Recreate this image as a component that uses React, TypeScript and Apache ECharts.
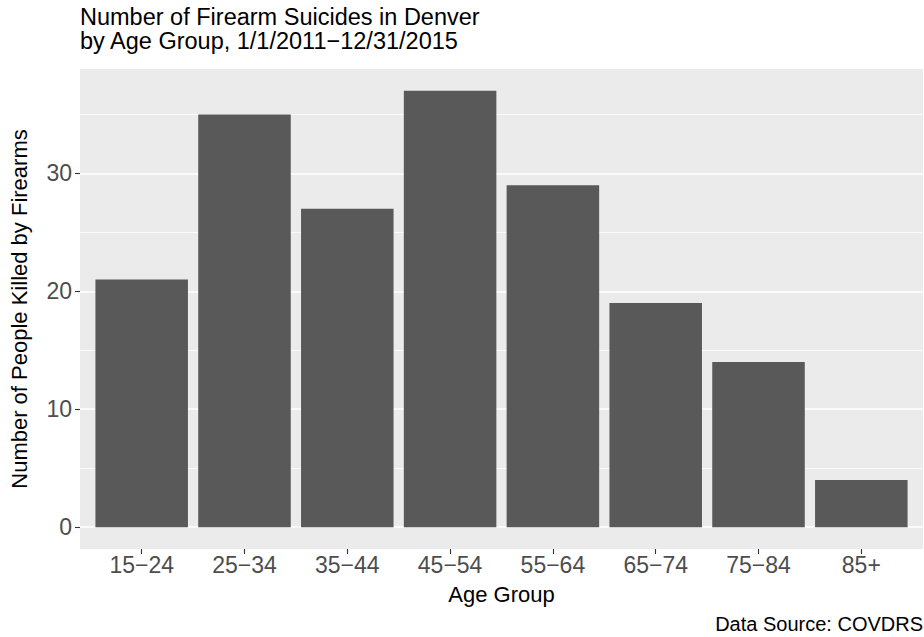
import React, { useEffect, useRef } from "react";
import * as echarts from "echarts";

const categories = ["15−24", "25−34", "35−44", "45−54", "55−64", "65−74", "75−84", "85+"];
const counts = [21, 35, 27, 37, 29, 19, 14, 4];
const yTicks = [0, 10, 20, 30];
const yMinor = [5, 15, 25, 35];
const titleLines = ["Number of Firearm Suicides in Denver", "by Age Group, 1/1/2011−12/31/2015"];
const xTitle = "Age Group";
const yTitle = "Number of People Killed by Firearms";
const caption = "Data Source: COVDRS";

export default function App() {
  const ref = useRef<HTMLDivElement>(null);
  useEffect(() => {
    const chart = echarts.init(ref.current!, null, { renderer: "svg" });
    const font = "'Liberation Sans', Arial, Helvetica, sans-serif";
    const yMax = Math.max(...counts);
    const pad = yMax * 0.05;
    const gridLeft = 80;
    const gridRight = 1;
    const gridW = 924 - gridLeft - gridRight;
    const unit = gridW / (categories.length + 0.2);
    const xTickVals = categories.map((_, i) => i + 1);
    chart.setOption({
      animation: false,
      backgroundColor: "#ffffff",
      textStyle: { fontFamily: font },
      title: [
        {
          text: titleLines.join("\n"),
          left: 80,
          top: 5,
          padding: 0,
          textStyle: { fontFamily: font, fontSize: 23.5, fontWeight: "normal", color: "#000000", lineHeight: 24 },
        },
        {
          text: caption,
          right: 1,
          top: 614,
          padding: 0,
          textStyle: { fontFamily: font, fontSize: 20, fontWeight: "normal", color: "#000000" },
        },
      ],
      grid: {
        left: gridLeft,
        right: gridRight,
        top: 69,
        bottom: 88,
        show: true,
        backgroundColor: "#EBEBEB",
        borderWidth: 0,
        containLabel: false,
      },
      xAxis: {
        type: "value",
        min: 0.4,
        max: categories.length + 0.6,
        splitLine: { show: false },
        axisLine: { show: false, onZero: false },
        axisTick: { show: true, length: 5, customValues: xTickVals, lineStyle: { color: "#333333", width: 1.1 } },
        axisLabel: {
          customValues: xTickVals,
          formatter: (v: number) => categories[Math.round(v) - 1] ?? "",
          color: "#4D4D4D",
          fontSize: 23,
          fontFamily: font,
          margin: 4,
        },
        name: xTitle,
        nameLocation: "middle",
        nameGap: 34,
        nameTextStyle: { color: "#000000", fontSize: 22, fontFamily: font },
      },
      yAxis: {
        type: "value",
        min: -pad,
        max: yMax + pad,
        splitLine: { show: false },
        axisLine: { show: false, onZero: false },
        axisTick: { show: true, length: 5, customValues: yTicks, lineStyle: { color: "#333333", width: 1.1 } },
        axisLabel: {
          customValues: yTicks,
          color: "#4D4D4D",
          fontSize: 23,
          fontFamily: font,
          margin: 8,
        },
        name: yTitle,
        nameLocation: "middle",
        nameGap: 50,
        nameTextStyle: { color: "#000000", fontSize: 22, fontFamily: font },
      },
      series: [
        {
          type: "bar",
          data: counts.map((v, i) => [i + 1, v]),
          barWidth: unit * 0.9,
          itemStyle: { color: "#595959" },
          emphasis: { disabled: true },
          z: 2,
          markLine: {
            silent: true,
            symbol: "none",
            z: 1,
            label: { show: false },
            emphasis: { disabled: true },
            data: [
              ...yTicks.map((v) => ({ yAxis: v, lineStyle: { color: "#ffffff", width: 1.6, type: "solid" } })),
              ...yMinor.map((v) => ({ yAxis: v, lineStyle: { color: "#ffffff", width: 0.8, type: "solid" } })),
            ],
          },
        },
      ],
    });
    return () => chart.dispose();
  }, []);
  return <div ref={ref} style={{ position: "fixed", left: 0, top: 0, width: 924, height: 637 }} />;
}
